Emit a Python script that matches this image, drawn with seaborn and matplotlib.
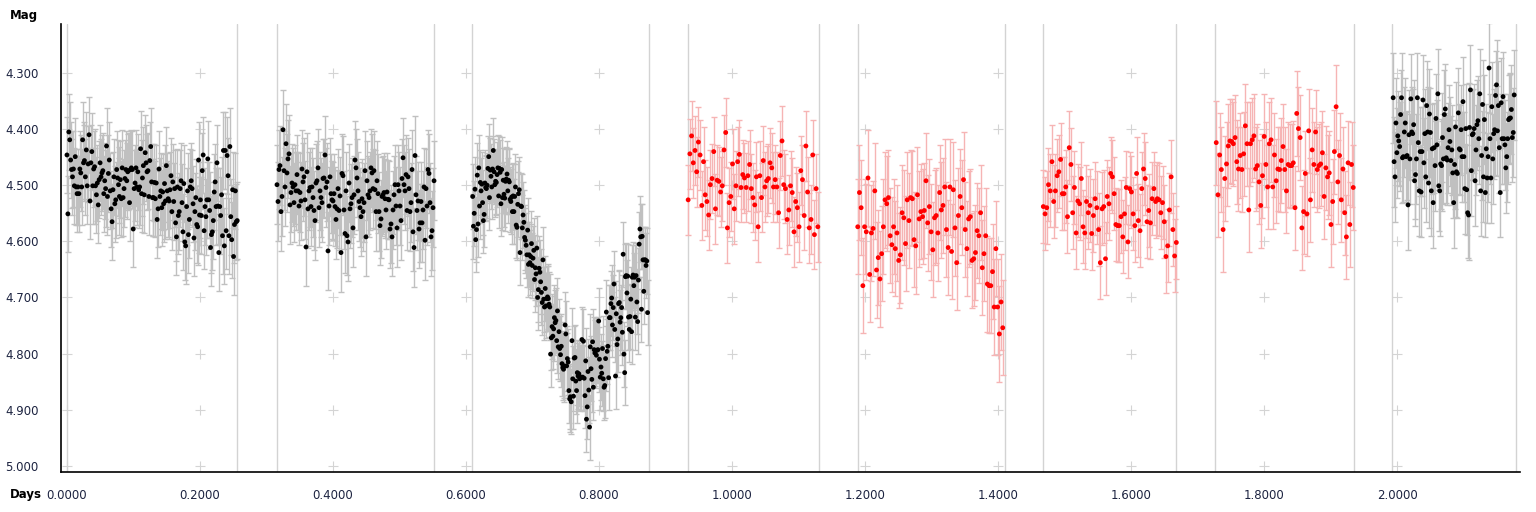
import numpy as np
import pandas as pd
import matplotlib
matplotlib.use("Agg")
import matplotlib.pyplot as plt
import seaborn as sns

# segment time spans (days) - each night drawn between two grey lines
seg_start = [0.0000, 0.3158, 0.6100, 0.9340, 1.1890, 1.4680, 1.7280, 1.9940]
seg_end = [0.2560, 0.5519, 0.8730, 1.1290, 1.4070, 1.6680, 1.9340, 2.1760]
seg_lines = [0.0000, 0.2556, 0.3158, 0.5519, 0.6090, 0.8750, 0.9340, 1.1310,
             1.1890, 1.4110, 1.4680, 1.6680, 1.7260, 1.9350, 1.9920, 2.1790]
seg_color = ["black", "black", "black", "red", "red", "red", "red", "black"]
seg_err = [0.068, 0.070, 0.058, 0.062, 0.085, 0.065, 0.075, 0.080]

# magnitudes per segment
mag1 = [4.446, 4.551, 4.405, 4.419, 4.455, 4.472, 4.485, 4.471, 4.501, 4.449,
        4.503, 4.515, 4.503, 4.515, 4.471, 4.478, 4.503, 4.419, 4.460, 4.456,
        4.485, 4.437, 4.501, 4.462, 4.410, 4.528, 4.460, 4.440, 4.501, 4.471,
        4.467, 4.501, 4.517, 4.496, 4.535, 4.490, 4.460, 4.485, 4.478, 4.474,
        4.515, 4.492, 4.506, 4.430, 4.520, 4.479, 4.455, 4.510, 4.542, 4.565,
        4.508, 4.485, 4.533, 4.526, 4.472, 4.487, 4.499, 4.520, 4.490, 4.524,
        4.469, 4.522, 4.506, 4.488, 4.472, 4.492, 4.476, 4.474, 4.531, 4.472,
        4.469, 4.472, 4.578, 4.506, 4.496, 4.469, 4.503, 4.476, 4.508, 4.503,
        4.435, 4.515, 4.487, 4.465, 4.517, 4.442, 4.460, 4.476, 4.474, 4.520,
        4.456, 4.431, 4.494, 4.522, 4.522, 4.495, 4.524, 4.496, 4.561, 4.542,
        4.471, 4.520, 4.510, 4.540, 4.512, 4.533, 4.497, 4.528, 4.465, 4.510,
        4.524, 4.528, 4.508, 4.483, 4.547, 4.494, 4.529, 4.506, 4.567, 4.592,
        4.503, 4.554, 4.547, 4.506, 4.492, 4.531, 4.583, 4.497, 4.601, 4.608,
        4.538, 4.510, 4.588, 4.561, 4.503, 4.492, 4.506, 4.533, 4.594, 4.547,
        4.522, 4.570, 4.574, 4.455, 4.553, 4.526, 4.554, 4.474, 4.446, 4.581,
        4.538, 4.556, 4.526, 4.453, 4.526, 4.545, 4.611, 4.588, 4.583, 4.563,
        4.512, 4.494, 4.538, 4.460, 4.537, 4.620, 4.538, 4.554, 4.517, 4.590,
        4.438, 4.608, 4.438, 4.581, 4.447, 4.483, 4.590, 4.431, 4.556, 4.597,
        4.508, 4.627, 4.570, 4.510, 4.565, 4.563]
mag2 = [4.499, 4.529, 4.472, 4.465, 4.547, 4.520, 4.401, 4.474, 4.503, 4.426,
        4.478, 4.453, 4.444, 4.535, 4.513, 4.496, 4.503, 4.531, 4.499, 4.510,
        4.481, 4.510, 4.537, 4.513, 4.528, 4.471, 4.494, 4.485, 4.526, 4.610,
        4.476, 4.542, 4.510, 4.504, 4.538, 4.503, 4.522, 4.545, 4.563, 4.496,
        4.492, 4.469, 4.540, 4.510, 4.522, 4.531, 4.488, 4.487, 4.446, 4.504,
        4.494, 4.617, 4.537, 4.485, 4.515, 4.526, 4.528, 4.515, 4.538, 4.561,
        4.542, 4.506, 4.545, 4.519, 4.620, 4.479, 4.483, 4.544, 4.586, 4.510,
        4.590, 4.601, 4.496, 4.542, 4.533, 4.522, 4.576, 4.517, 4.455, 4.469,
        4.487, 4.510, 4.529, 4.540, 4.556, 4.524, 4.547, 4.531, 4.474, 4.592,
        4.492, 4.517, 4.522, 4.510, 4.469, 4.478, 4.506, 4.474, 4.508, 4.547,
        4.492, 4.515, 4.547, 4.572, 4.560, 4.520, 4.517, 4.513, 4.524, 4.544,
        4.512, 4.525, 4.526, 4.578, 4.569, 4.592, 4.544, 4.517, 4.499, 4.537,
        4.576, 4.499, 4.510, 4.537, 4.563, 4.488, 4.451, 4.499, 4.510, 4.481,
        4.545, 4.485, 4.506, 4.547, 4.531, 4.472, 4.583, 4.611, 4.447, 4.517,
        4.545, 4.528, 4.578, 4.567, 4.529, 4.567, 4.544, 4.503, 4.598, 4.506,
        4.537, 4.472, 4.479, 4.531, 4.592, 4.581, 4.540, 4.492]
mag3 = [4.520, 4.573, 4.550, 4.507, 4.597, 4.579, 4.482, 4.569, 4.469, 4.537,
        4.495, 4.510, 4.498, 4.531, 4.563, 4.552, 4.496, 4.504, 4.506, 4.500,
        4.470, 4.449, 4.522, 4.473, 4.484, 4.503, 4.471, 4.438, 4.476, 4.499,
        4.493, 4.495, 4.481, 4.469, 4.519, 4.470, 4.477, 4.533, 4.472, 4.522,
        4.491, 4.516, 4.523, 4.493, 4.489, 4.480, 4.510, 4.491, 4.494, 4.525,
        4.529, 4.521, 4.547, 4.519, 4.547, 4.520, 4.503, 4.571, 4.575, 4.534,
        4.515, 4.508, 4.620, 4.537, 4.538, 4.576, 4.553, 4.566, 4.593, 4.598,
        4.607, 4.624, 4.580, 4.641, 4.624, 4.638, 4.627, 4.604, 4.643, 4.630,
        4.616, 4.668, 4.647, 4.658, 4.612, 4.700, 4.686, 4.648, 4.655, 4.672,
        4.691, 4.709, 4.633, 4.703, 4.717, 4.684, 4.715, 4.702, 4.699, 4.702,
        4.712, 4.717, 4.801, 4.772, 4.752, 4.769, 4.756, 4.736, 4.745, 4.741,
        4.777, 4.724, 4.788, 4.761, 4.791, 4.802, 4.787, 4.818, 4.825, 4.828,
        4.822, 4.749, 4.765, 4.822, 4.809, 4.815, 4.866, 4.881, 4.877, 4.886,
        4.777, 4.845, 4.876, 4.808, 4.807, 4.849, 4.866, 4.834, 4.840, 4.836,
        4.845, 4.843, 4.842, 4.775, 4.842, 4.778, 4.844, 4.875, 4.813, 4.917,
        4.895, 4.832, 4.865, 4.931, 4.788, 4.827, 4.846, 4.779, 4.860, 4.793,
        4.799, 4.795, 4.803, 4.794, 4.793, 4.742, 4.810, 4.842, 4.824, 4.835,
        4.791, 4.845, 4.860, 4.857, 4.809, 4.726, 4.796, 4.787, 4.843, 4.736,
        4.736, 4.711, 4.701, 4.749, 4.718, 4.676, 4.757, 4.840, 4.729, 4.784,
        4.774, 4.711, 4.709, 4.744, 4.736, 4.718, 4.762, 4.623, 4.801, 4.834,
        4.663, 4.661, 4.692, 4.662, 4.735, 4.757, 4.734, 4.703, 4.761, 4.664,
        4.660, 4.679, 4.664, 4.735, 4.661, 4.708, 4.743, 4.669, 4.605, 4.578,
        4.592, 4.721, 4.591, 4.633, 4.689, 4.633, 4.633, 4.643, 4.635, 4.727]
mag4 = [4.526, 4.444, 4.412, 4.460, 4.438, 4.476, 4.423, 4.446, 4.536, 4.458,
        4.517, 4.529, 4.553, 4.499, 4.488, 4.440, 4.542, 4.491, 4.493, 4.512,
        4.501, 4.437, 4.406, 4.576, 4.531, 4.520, 4.462, 4.542, 4.501, 4.458,
        4.445, 4.504, 4.481, 4.487, 4.504, 4.483, 4.463, 4.506, 4.522, 4.535,
        4.485, 4.574, 4.483, 4.522, 4.456, 4.503, 4.492, 4.488, 4.460, 4.469,
        4.503, 4.490, 4.503, 4.549, 4.447, 4.421, 4.499, 4.506, 4.561, 4.544,
        4.501, 4.513, 4.583, 4.529, 4.540, 4.574, 4.474, 4.490, 4.554, 4.430,
        4.512, 4.576, 4.561, 4.446, 4.588, 4.506, 4.574]
mag5 = [4.574, 4.513, 4.540, 4.679, 4.574, 4.583, 4.487, 4.659, 4.585, 4.577,
        4.510, 4.651, 4.629, 4.667, 4.622, 4.574, 4.526, 4.533, 4.522, 4.590,
        4.606, 4.574, 4.613, 4.585, 4.634, 4.624, 4.549, 4.558, 4.604, 4.526,
        4.563, 4.522, 4.524, 4.597, 4.608, 4.517, 4.560, 4.547, 4.556, 4.545,
        4.492, 4.567, 4.538, 4.583, 4.615, 4.558, 4.554, 4.585, 4.513, 4.544,
        4.536, 4.503, 4.579, 4.611, 4.503, 4.618, 4.508, 4.576, 4.638, 4.554,
        4.520, 4.540, 4.490, 4.579, 4.613, 4.560, 4.556, 4.634, 4.631, 4.620,
        4.581, 4.590, 4.549, 4.647, 4.622, 4.590, 4.676, 4.679, 4.679, 4.654,
        4.717, 4.613, 4.717, 4.765, 4.708, 4.754]
mag6 = [4.538, 4.551, 4.540, 4.499, 4.510, 4.458, 4.529, 4.510, 4.483, 4.476,
        4.454, 4.515, 4.515, 4.503, 4.556, 4.433, 4.463, 4.549, 4.504, 4.585,
        4.528, 4.533, 4.488, 4.574, 4.585, 4.529, 4.549, 4.536, 4.586, 4.554,
        4.524, 4.540, 4.579, 4.638, 4.542, 4.538, 4.631, 4.520, 4.533, 4.479,
        4.485, 4.515, 4.570, 4.572, 4.572, 4.556, 4.592, 4.551, 4.504, 4.601,
        4.506, 4.512, 4.551, 4.572, 4.479, 4.563, 4.581, 4.506, 4.471, 4.488,
        4.565, 4.545, 4.567, 4.524, 4.506, 4.529, 4.524, 4.526, 4.549, 4.531,
        4.565, 4.627, 4.608, 4.544, 4.485, 4.579, 4.626, 4.602]
mag7 = [4.424, 4.517, 4.446, 4.472, 4.579, 4.488, 4.462, 4.430, 4.421, 4.422,
        4.426, 4.415, 4.458, 4.471, 4.447, 4.472, 4.444, 4.394, 4.426, 4.544,
        4.426, 4.419, 4.412, 4.471, 4.465, 4.494, 4.536, 4.483, 4.413, 4.463,
        4.503, 4.426, 4.419, 4.503, 4.446, 4.492, 4.471, 4.472, 4.456, 4.431,
        4.472, 4.510, 4.463, 4.465, 4.465, 4.460, 4.540, 4.372, 4.399, 4.415,
        4.576, 4.547, 4.479, 4.551, 4.403, 4.526, 4.437, 4.463, 4.405, 4.472,
        4.465, 4.462, 4.442, 4.520, 4.469, 4.485, 4.478, 4.570, 4.529, 4.440,
        4.360, 4.494, 4.447, 4.526, 4.471, 4.549, 4.592, 4.460, 4.570, 4.463,
        4.504]
mag8 = [4.344, 4.458, 4.485, 4.389, 4.442, 4.412, 4.421, 4.431, 4.374, 4.344,
        4.451, 4.449, 4.405, 4.389, 4.449, 4.447, 4.535, 4.410, 4.453, 4.346,
        4.405, 4.408, 4.392, 4.492, 4.481, 4.453, 4.344, 4.424, 4.510, 4.440,
        4.512, 4.440, 4.348, 4.460, 4.408, 4.485, 4.358, 4.405, 4.496, 4.373,
        4.406, 4.510, 4.435, 4.531, 4.433, 4.465, 4.381, 4.428, 4.337, 4.501,
        4.510, 4.462, 4.465, 4.415, 4.453, 4.374, 4.364, 4.451, 4.455, 4.433,
        4.401, 4.422, 4.456, 4.437, 4.478, 4.531, 4.463, 4.396, 4.476, 4.479,
        4.371, 4.435, 4.437, 4.401, 4.449, 4.351, 4.449, 4.506, 4.399, 4.508,
        4.549, 4.553, 4.397, 4.330, 4.474, 4.410, 4.408, 4.399, 4.492, 4.437,
        4.392, 4.385, 4.417, 4.337, 4.510, 4.447, 4.356, 4.485, 4.383, 4.513,
        4.435, 4.487, 4.449, 4.291, 4.417, 4.487, 4.360, 4.453, 4.408, 4.401,
        4.340, 4.321, 4.403, 4.358, 4.433, 4.513, 4.353, 4.417, 4.342, 4.417,
        4.428, 4.469, 4.449, 4.417, 4.383, 4.381, 4.380, 4.365, 4.415, 4.406,
        4.339]
mags = [mag1, mag2, mag3, mag4, mag5, mag6, mag7, mag8]

x_ticks = [0.0, 0.2, 0.4, 0.6, 0.8, 1.0, 1.2, 1.4, 1.6, 1.8, 2.0]
y_ticks = [4.3, 4.4, 4.5, 4.6, 4.7, 4.8, 4.9, 5.0]

# build a long table
rows = []
for i, m in enumerate(mags):
    t = np.linspace(seg_start[i], seg_end[i], len(m))
    for tt, mm in zip(t, m):
        rows.append({"days": tt, "mag": mm, "seg": i, "color": seg_color[i],
                     "err": seg_err[i]})
df = pd.DataFrame(rows)

sns.set_theme(style="white")
plt.rcParams["font.family"] = ["DejaVu Sans"]

fig = plt.figure(figsize=(15.36, 5.12), dpi=100)
ax = fig.add_axes([0.0397, 0.078, 0.950, 0.875])

# faint "+" grid marks at tick crossings
gx, gy = np.meshgrid(x_ticks, y_ticks)
ax.scatter(gx.ravel(), gy.ravel(), marker="+", s=45, color="#d4d4d4",
           linewidths=0.8, zorder=0)

for xl in seg_lines:
    ax.axvline(xl, color="#d3d3d3", lw=1, zorder=1)

# error bars
for i in range(len(mags)):
    d = df[df["seg"] == i]
    ecol = "#c0c0c0" if seg_color[i] == "black" else "#f6b4b4"
    ax.errorbar(d["days"], d["mag"], yerr=d["err"], fmt="none", ecolor=ecol,
                elinewidth=1, capsize=2.5, capthick=1, zorder=2)

sns.scatterplot(data=df, x="days", y="mag", hue="color",
                palette={"black": "black", "red": "red"}, s=12,
                edgecolor="none", legend=False, ax=ax, zorder=3)

ax.set_xlim(-0.009, 2.185)
ax.set_ylim(5.0112, 4.2127)
ax.set_xticks(x_ticks)
ax.set_yticks(y_ticks)
ax.set_xticklabels([f"{v:.4f}" for v in x_ticks])
ax.set_yticklabels([f"{v:.3f}" for v in y_ticks])
ax.set_xlabel("")
ax.set_ylabel("")

for s in ["top", "right"]:
    ax.spines[s].set_visible(False)
for s in ["left", "bottom"]:
    ax.spines[s].set_color("black")
    ax.spines[s].set_linewidth(1.2)

ax.tick_params(axis="both", which="major", direction="out", length=4,
               width=1, color="black", labelsize=8.5, labelcolor="#1c2340")
ax.tick_params(axis="y", pad=12)
ax.tick_params(axis="x", pad=8)

fig.text(0.0065, 0.97, "Mag", fontsize=8.5, fontweight="bold", color="black",
         va="center")
fig.text(0.0065, 0.035, "Days", fontsize=8.5, fontweight="bold", color="black",
         va="center")

fig.savefig("out.png", dpi=100)
